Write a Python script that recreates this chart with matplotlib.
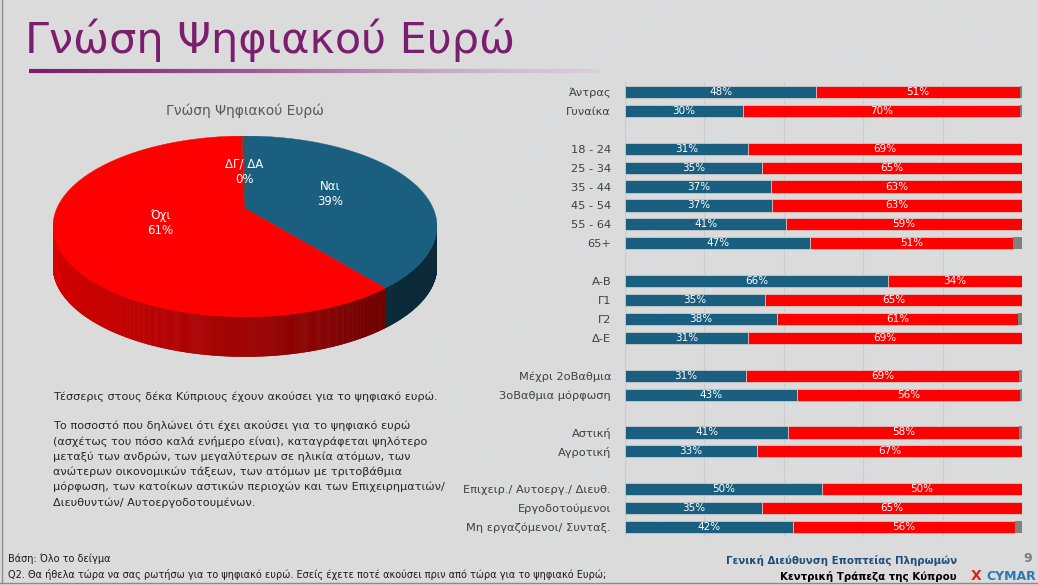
import numpy as np
import matplotlib
matplotlib.use("Agg")
import matplotlib.pyplot as plt
from matplotlib.patches import Polygon
from matplotlib.collections import LineCollection

# ---------------- data ----------------
pie_labels = ["Ναι", "Όχι", "ΔΓ/ ΔΑ"]
pie_values = [39.0, 60.7, 0.3]

categories = ["Άντρας", "Γυναίκα",
              "18 - 24", "25 - 34", "35 - 44", "45 - 54", "55 - 64", "65+",
              "Α-Β", "Γ1", "Γ2", "Δ-Ε",
              "Μέχρι 2οΒαθμια", "3οΒαθμια μόρφωση",
              "Αστική", "Αγροτική",
              "Επιχειρ./ Αυτοεργ./ Διευθ.", "Εργοδοτούμενοι", "Μη εργαζόμενοι/ Συνταξ."]
group_sizes = [2, 6, 4, 2, 2, 3]
yes_vals = [48.2, 29.6, 30.9, 34.6, 36.9, 37.0, 40.6, 46.6, 66.2, 35.2, 38.3, 30.9,
            30.6, 43.2, 41.1, 33.3, 49.6, 34.6, 42.4]
no_vals = [51.3, 69.9, 69.1, 65.4, 63.1, 63.0, 59.4, 51.1, 33.8, 64.8, 60.6, 69.1,
           68.6, 56.3, 58.1, 66.7, 50.4, 65.4, 55.8]
dk_vals = [0.5, 0.5, 0, 0, 0, 0, 0, 2.3, 0, 0, 1.1, 0,
           0.8, 0.5, 0.8, 0, 0, 0, 1.8]

title = "Γνώση Ψηφιακού Ευρώ"
pie_title = "Γνώση Ψηφιακού Ευρώ"
summary = "Τέσσερις στους δέκα Κύπριους έχουν ακούσει για το ψηφιακό ευρώ."
paragraph = ["Το ποσοστό που δηλώνει ότι έχει ακούσει για το ψηφιακό ευρώ",
             "(ασχέτως του πόσο καλά ενήμερο είναι), καταγράφεται ψηλότερο",
             "μεταξύ των ανδρών, των μεγαλύτερων σε ηλικία ατόμων, των",
             "ανώτερων οικονομικών τάξεων, των ατόμων με τριτοβάθμια",
             "μόρφωση, των κατοίκων αστικών περιοχών και των Επιχειρηματιών/",
             "Διευθυντών/ Αυτοεργοδοτουμένων."]
base_note = "Βάση: Όλο το δείγμα"
question = ("Q2. Θα ήθελα τώρα να σας ρωτήσω για το ψηφιακό ευρώ. Εσείς έχετε ποτέ "
            "ακούσει πριν από τώρα για το ψηφιακό Ευρώ;")
footer1 = "Γενική Διεύθυνση Εποπτείας Πληρωμών"
footer2 = "Κεντρική Τράπεζα της Κύπρου"

# ---------------- style ----------------
BLUE = "#1a5f80"
RED = "#ff0000"
GREY = "#808080"
PURPLE = "#7b1e6e"
BG = "#dbdbdb"
plt.rcParams["font.family"] = ["DejaVu Sans"]

W, H = 1038, 585
fig = plt.figure(figsize=(W / 100, H / 100), dpi=100, facecolor=BG)

# overlay axes in pixel coordinates for decoration and text
ax0 = fig.add_axes([0, 0, 1, 1])
ax0.set_xlim(0, W)
ax0.set_ylim(H, 0)
ax0.axis("off")
ax0.patch.set_alpha(0)

# faint "technology" arcs in the background
for r, a in [(150, 0.35), (215, 0.3), (290, 0.25), (370, 0.2)]:
    t = np.linspace(0, 2 * np.pi, 400)
    ax0.plot(800 + r * np.cos(t), 265 + r * np.sin(t), color="#cfe6f2",
             lw=1.2, alpha=a, zorder=0)

# slide border
ax0.plot([1.5, 1.5], [0, 583], color="#8c8c8c", lw=1)
ax0.plot([0, W], [583, 583], color="#8c8c8c", lw=1)

# title + gradient underline
ax0.text(25, 53, title, fontsize=31, color=PURPLE, va="baseline", ha="left")
xs = np.linspace(29, 600, 300)
segs = [[(xs[i], 71), (xs[i + 1], 71)] for i in range(len(xs) - 1)]
c0 = np.array([0.48, 0.10, 0.42])
c1 = np.array([0.84, 0.74, 0.84])
fr = np.linspace(0, 1, len(segs))[:, None]
cols = c0 * (1 - fr) + c1 * fr
alphas = np.clip(1.4 - fr[:, 0] * 1.0, 0, 1)
cols = np.hstack([cols, alphas[:, None]])
ax0.add_collection(LineCollection(segs, colors=cols, linewidths=3.0))

# ---------------- 3D pie ----------------
axp = fig.add_axes([53 / W, 1 - 362 / H, 384 / W, 226 / H])
axp.set_xlim(-1, 1)
axp.set_ylim(-1.5, 1.0)
axp.axis("off")
axp.patch.set_alpha(0)

vertex = np.array([0.0, 0.2])
depth = 0.44


def rim(theta_deg):
    t = np.radians(theta_deg)
    d = np.stack([np.cos(t), np.sin(t)], axis=-1)
    vd = d @ vertex
    s = -vd + np.sqrt(vd ** 2 - vertex @ vertex + 1)
    return vertex + s[:, None] * d


def shade(phi):
    return np.interp(phi, [180, 230, 270, 310, 360], [0.86, 0.76, 0.62, 0.45, 0.42])


vals = np.array(pie_values)
fracs = vals / vals.sum()
bounds = 90 - 360 * np.concatenate([[0], np.cumsum(fracs)])
pie_colors = [BLUE, RED, "#4d4d4d"]
label_r = [0.47, 0.47, 0.40]

for i in range(len(vals)):
    a0, a1 = bounds[i], bounds[i + 1]
    n = max(int(abs(a0 - a1) * 4), 4)
    th = np.linspace(a0, a1, n)
    pts = rim(th)
    base = np.array(matplotlib.colors.to_rgb(pie_colors[i]))
    # side (front half only)
    for k in range(len(pts) - 1):
        p, q = pts[k], pts[k + 1]
        if p[1] > 0.0 and q[1] > 0.0:
            continue
        phi = np.degrees(np.arctan2((p[1] + q[1]) / 2, (p[0] + q[0]) / 2)) % 360
        c = base * shade(phi)
        quad = [p, q, q - [0, depth], p - [0, depth]]
        axp.add_patch(Polygon(quad, closed=True, facecolor=c, edgecolor=c,
                              lw=0.4, zorder=1))
    # top face
    top = np.vstack([vertex, pts])
    axp.add_patch(Polygon(top, closed=True, facecolor=pie_colors[i],
                          edgecolor=pie_colors[i], lw=0.3, zorder=2))
    # label
    m = np.radians((a0 + a1) / 2)
    lp = vertex + label_r[i] * np.array([np.cos(m), np.sin(m)])
    axp.text(lp[0], lp[1], f"{pie_labels[i]}\n{vals[i]:.0f}%", ha="center",
             va="center", color="white", fontsize=8.5, zorder=3, linespacing=1.25)

ax0.text(245, 111, pie_title, ha="center", va="center", fontsize=10, color="#595959")

# ---------------- stacked bars ----------------
slots = []
pos = 0
for g in group_sizes:
    for _ in range(g):
        slots.append(pos)
        pos += 1
    pos += 1
slots = np.array(slots)
n_slots = slots[-1] + 1

axb = fig.add_axes([625 / W, 1 - 536.5 / H, 397 / W, 454 / H])
axb.patch.set_alpha(0)
axb.set_xlim(0, 100)
axb.set_ylim(n_slots - 0.5, -0.5)
yes = np.array(yes_vals)
no = np.array(no_vals)
dk = np.array(dk_vals)
bh = 0.64
axb.barh(slots, yes, height=bh, color=BLUE, edgecolor="#d4d4d4", lw=0.5, zorder=2)
axb.barh(slots, no, left=yes, height=bh, color=RED, edgecolor="#d4d4d4", lw=0.5, zorder=2)
axb.barh(slots, dk, left=yes + no, height=bh, color=GREY, edgecolor="none", zorder=2)
for y, a, b in zip(slots, yes, no):
    axb.text(a / 2, y, f"{a:.0f}%", ha="center", va="center", color="white",
             fontsize=7.5, zorder=3)
    axb.text(a + b / 2, y, f"{b:.0f}%", ha="center", va="center", color="white",
             fontsize=7.5, zorder=3)
axb.set_yticks(slots)
axb.set_yticklabels(categories, fontsize=8.2, color="#404040")
axb.tick_params(axis="y", length=0, pad=10)
axb.set_xticks([0, 20, 40, 60, 80, 100])
axb.tick_params(axis="x", length=0, labelbottom=False)
axb.grid(axis="x", color="#c8cdd2", lw=0.8, zorder=0)
axb.set_axisbelow(True)
for s in axb.spines.values():
    s.set_visible(False)

# ---------------- texts ----------------
ax0.text(53, 397, summary, fontsize=8.1, color="#262626", va="center")
for k, line in enumerate(paragraph):
    ax0.text(53, 426 + 15.3 * k, line, fontsize=8.1, color="#262626", va="center")
ax0.text(8, 559, base_note, fontsize=7.0, color="#1a1a1a", va="center")
ax0.text(8, 574, question, fontsize=7.0, color="#1a1a1a", va="center")

ax0.text(957, 561, footer1, fontsize=7.4, color="#1f4e79", fontweight="bold",
         ha="right", va="center")
ax0.text(957, 577, footer2, fontsize=7.4, color="black", fontweight="bold",
         ha="right", va="center")
ax0.text(1028, 559, "9", fontsize=9, color="#7f7f7f", fontweight="bold",
         ha="center", va="center")
ax0.text(976, 576, "X", fontsize=10, color="#e0201b", fontweight="bold",
         ha="center", va="center")
ax0.text(1036, 576, "CYMAR", fontsize=9, color="#2a78b8", fontweight="bold",
         ha="right", va="center")

fig.savefig("out.png", dpi=100, facecolor=BG)
